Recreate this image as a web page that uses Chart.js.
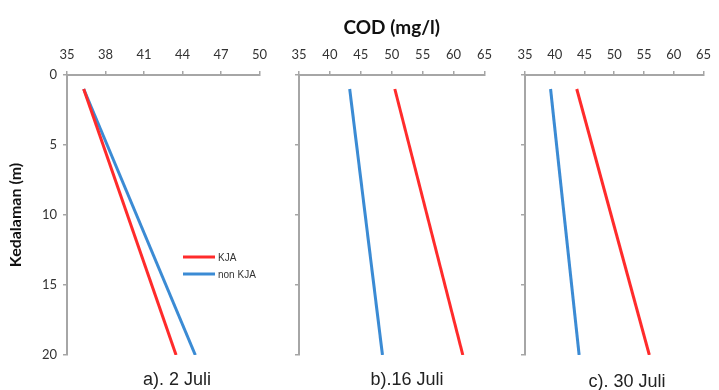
<!DOCTYPE html>
<html>
<head>
<meta charset="utf-8">
<script src="https://cdn.jsdelivr.net/npm/chart.js@4/dist/chart.umd.min.js"></script>
<style>
  body { margin: 0; background: #fff; width: 719px; height: 390px; position: relative; overflow: hidden; }
  canvas { position: absolute; top: 0; }
  .cap { position: absolute; top: 369px; font: 18px "Liberation Sans", Arial, sans-serif; color: #222; white-space: nowrap; transform: translateX(-50%); }
</style>
</head>
<body>
<canvas id="pa" width="275" height="390" style="left:0"></canvas>
<canvas id="pb" width="220" height="390" style="left:280px"></canvas>
<canvas id="pc" width="214" height="390" style="left:505px"></canvas>
<div class="cap" style="left:177px">a). 2 Juli</div>
<div class="cap" style="left:407px">b).16 Juli</div>
<div class="cap" style="left:627px;top:371px">c). 30 Juli</div>
<script>
// depth (m) at the two ends of each line
const depth = [1, 20];
const seriesNames = ['KJA', 'non KJA'];

// COD (mg/l) at depth[0] and depth[1]
const kja2Juli = [36.3, 43.5];
const nonKja2Juli = [36.3, 45.0];
const kja16Juli = [50.5, 61.5];
const nonKja16Juli = [43.2, 48.5];
const kja30Juli = [43.7, 55.9];
const nonKja30Juli = [39.3, 44.1];

const ticksA = [35, 38, 41, 44, 47, 50];
const ticksBC = [35, 40, 45, 50, 55, 60, 65];
const depthTicks = [0, 5, 10, 15, 20];

const RED = '#ff2b2b';
const BLUE = '#3b8bd4';
const AXIS = '#a6a6a6';
const tickFont = { family: 'Lato, "Open Sans", sans-serif', size: 13 };

function pts(xs) {
  return xs.map((x, i) => ({ x: x, y: depth[i] }));
}

// legend drawn inside panel a
const innerLegend = {
  id: 'innerLegend',
  afterDraw(chart, args, opts) {
    if (!opts.show) return;
    const ctx = chart.ctx, a = chart.chartArea;
    ctx.save();
    chart.data.datasets.forEach((ds, i) => {
      const y = a.top + opts.y + i * opts.gap;
      ctx.strokeStyle = ds.borderColor;
      ctx.lineWidth = 3;
      ctx.beginPath();
      ctx.moveTo(a.left + opts.x, y);
      ctx.lineTo(a.left + opts.x + 32, y);
      ctx.stroke();
      ctx.fillStyle = '#333';
      ctx.font = '10px "Liberation Sans", Arial, sans-serif';
      ctx.textBaseline = 'middle';
      ctx.fillText(ds.label, a.left + opts.x + 35, y + 1);
    });
    ctx.restore();
  }
};

function makePanel(id, kja, nonKja, xTicks, opt) {
  const xmin = xTicks[0], xmax = xTicks[xTicks.length - 1];
  return new Chart(document.getElementById(id), {
    type: 'scatter',
    data: {
      datasets: [
        { label: seriesNames[0], data: pts(kja), borderColor: RED, borderWidth: 3, showLine: true, pointRadius: 0 },
        { label: seriesNames[1], data: pts(nonKja), borderColor: BLUE, borderWidth: 3, showLine: true, pointRadius: 0 }
      ]
    },
    options: {
      responsive: false,
      animation: false,
      layout: { padding: { left: opt.left || 0, right: opt.right, top: 0, bottom: 35 } },
      plugins: {
        legend: { display: false },
        tooltip: { enabled: false },
        innerLegend: { show: !!opt.legend, x: 116, y: 182, gap: 17 }
      },
      scales: {
        x: {
          type: 'linear', position: 'top', min: xmin, max: xmax,
          afterBuildTicks: s => { s.ticks = xTicks.map(v => ({ value: v })); },
          afterFit: s => { s.height = 75; },
          grid: { drawOnChartArea: false, drawTicks: true, tickLength: 4, color: AXIS, lineWidth: 1.5 },
          border: { color: AXIS, width: 2 },
          ticks: { font: tickFont, color: '#333', padding: 8, maxRotation: 0 },
          title: {
            display: !!opt.xTitle, text: opt.xTitle || '',
            font: { family: 'Lato, "Open Sans", sans-serif', size: 19, weight: 'bold' }, color: '#111',
            padding: { top: 16, bottom: 0 }
          }
        },
        y: {
          type: 'linear', position: 'left', min: 0, max: 20, reverse: true,
          afterBuildTicks: s => { s.ticks = depthTicks.map(v => ({ value: v })); },
          afterFit: s => { s.width = opt.yWidth; },
          grid: { drawOnChartArea: false, drawTicks: true, tickLength: 4, color: AXIS, lineWidth: 1.5 },
          border: { color: AXIS, width: 2 },
          ticks: { display: !!opt.yLabels, font: tickFont, color: '#333', padding: 6 },
          title: {
            display: !!opt.yTitle, text: opt.yTitle || '',
            font: { family: 'Lato, "Open Sans", sans-serif', size: 16, weight: 'bold' }, color: '#111',
            padding: { top: 0, bottom: 0 }
          }
        }
      }
    },
    plugins: [innerLegend]
  });
}

makePanel('pa', kja2Juli, nonKja2Juli, ticksA, { left: 6, right: 15, yWidth: 61, yLabels: true, yTitle: 'Kedalaman (m)', legend: true });
makePanel('pb', kja16Juli, nonKja16Juli, ticksBC, { right: 15, yWidth: 19, xTitle: 'COD (mg/l)' });
makePanel('pc', kja30Juli, nonKja30Juli, ticksBC, { right: 7, yWidth: 20 });
</script>
</body>
</html>
